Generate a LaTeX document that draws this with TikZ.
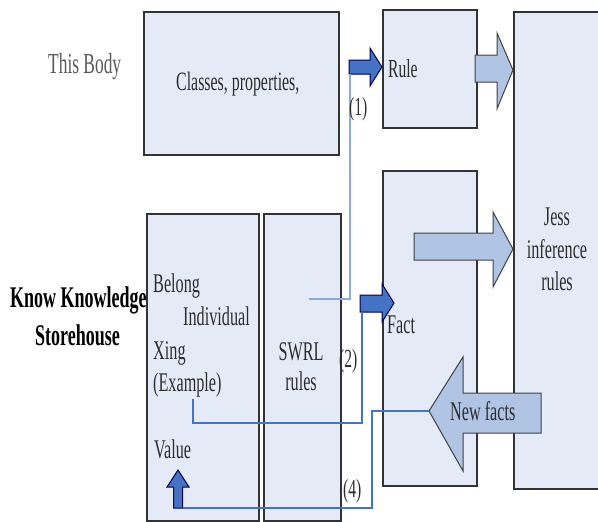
\documentclass[tikz,border=0pt]{standalone}
\usepackage{fontspec}
\setmainfont{Liberation Serif}[FakeStretch=0.6]
\definecolor{boxfill}{RGB}{228,234,246}
\definecolor{bigarrow}{RGB}{176,196,228}
\definecolor{darkarrow}{RGB}{68,114,196}
\definecolor{lineA}{RGB}{142,169,219}
\definecolor{lineB}{RGB}{70,115,196}
\definecolor{txt}{RGB}{45,45,45}
\begin{document}
\begin{tikzpicture}[x=1pt,y=-1pt,
  box/.style={draw=black!80,line width=1.5pt,fill=boxfill,inner sep=0pt,anchor=north west},
  bigarr/.style={draw=black!75,line width=1pt,fill=bigarrow,line join=miter},
  smallarr/.style={draw=black!70!blue,line width=1pt,fill=darkarrow,line join=miter},
  connA/.style={draw=lineA,line width=1.8pt},
  connB/.style={draw=lineB,line width=1.8pt},
  lbl/.style={text=txt,font=\fontsize{27}{32}\selectfont,inner sep=0pt,anchor=base west},
  clbl/.style={text=txt,font=\fontsize{27}{32}\selectfont,inner sep=0pt,anchor=base},
  blbl/.style={text=black,font=\bfseries\fontsize{30}{36}\selectfont,inner sep=0pt,anchor=base west},
]
\useasboundingbox (0,0) rectangle (598,522);
\clip (0,0) rectangle (598,522);

% boxes
\node[box,minimum width=195pt,minimum height=143pt] (classes) at (143,11) {};
\node[box,minimum width=94pt,minimum height=118pt] (rule) at (382,9) {};
\node[box,minimum width=100pt,minimum height=477pt] (jess) at (513,11) {};
\node[box,minimum width=94pt,minimum height=315pt] (fact) at (382,170) {};
\node[box,minimum width=112pt,minimum height=307pt] (store) at (146,213) {};
\node[box,minimum width=77pt,minimum height=307pt] (swrl) at (263,213) {};

% big arrows
\draw[bigarr] (475,55) -- (497,55) -- (497,33) -- (513,70) -- (497,109) -- (497,82) -- (475,82) -- cycle;
\draw[bigarr] (414,233) -- (493,233) -- (493,212) -- (513,249) -- (493,287) -- (493,260) -- (414,260) -- cycle;
\draw[bigarr] (541,393) -- (463,393) -- (463,357) -- (429,411) -- (463,471) -- (463,433) -- (541,433) -- cycle;
\coordinate (nftip) at (429,411);

% small arrows
\draw[smallarr] (349,60) -- (370,60) -- (370,48) -- (382,67) -- (370,86) -- (370,74) -- (349,74) -- cycle;
\coordinate (a1b) at (350,74);
\draw[smallarr] (360,295) -- (382,295) -- (382,284) -- (394,303) -- (382,322) -- (382,312) -- (360,312) -- cycle;
\coordinate (a2b) at (362,312);
\draw[smallarr] (173.5,508) -- (173.5,487) -- (167,487) -- (178,470) -- (189,487) -- (182.5,487) -- (182.5,508) -- cycle;
\coordinate (a4r) at (182.5,508);

% connectors
\coordinate (c1) at (309,299);
\draw[connA] (c1) -| (a1b);
\coordinate (ex) at (193,399);
\coordinate (c2) at (193,423);
\draw[connB] (ex) -- (c2) -| (a2b);
\coordinate (c4) at (372,508);
\draw[connB] (nftip) -| (c4) -- (a4r);

% texts
\node[lbl,font=\fontsize{29}{34}\selectfont,text=black!65] (tb) at (48,73) {This Body};
\node[lbl,font=\fontsize{26.5}{32}\selectfont] (tc) at (176,90) {Classes, properties,};
\node[lbl,font=\fontsize{26}{32}\selectfont] (tr) at (388,77) {Rule};
\node[lbl,font=\fontsize{26}{32}\selectfont] (t1) at (349,115) {(1)};
\node[lbl] (tf) at (387,333) {Fact};
\node[clbl] (tj1) at (557,225) {Jess};
\node[clbl] (tj2) at (557,258) {inference};
\node[clbl] (tj3) at (557,290) {rules};
\node[lbl] (tbe) at (153,292) {Belong};
\node[lbl] (tin) at (183,325) {Individual};
\node[lbl] (txi) at (153,359) {Xing};
\node[lbl] (tex) at (153,391) {(Example)};
\node[lbl] (tva) at (154,458) {Value};
\node[clbl] (ts1) at (301,360) {SWRL};
\node[clbl] (ts2) at (301,390) {rules};
\node[lbl,font=\fontsize{26}{32}\selectfont] (t2) at (339,367) {(2)};
\node[lbl,font=\fontsize{26}{32}\selectfont] (t4) at (343,497) {(4)};
\node[lbl] (tnf) at (450,420) {New facts};
\node[blbl] (tk1) at (10,307) {Know Knowledge};
\node[blbl] (tk2) at (35,345) {Storehouse};
\end{tikzpicture}
\end{document}
